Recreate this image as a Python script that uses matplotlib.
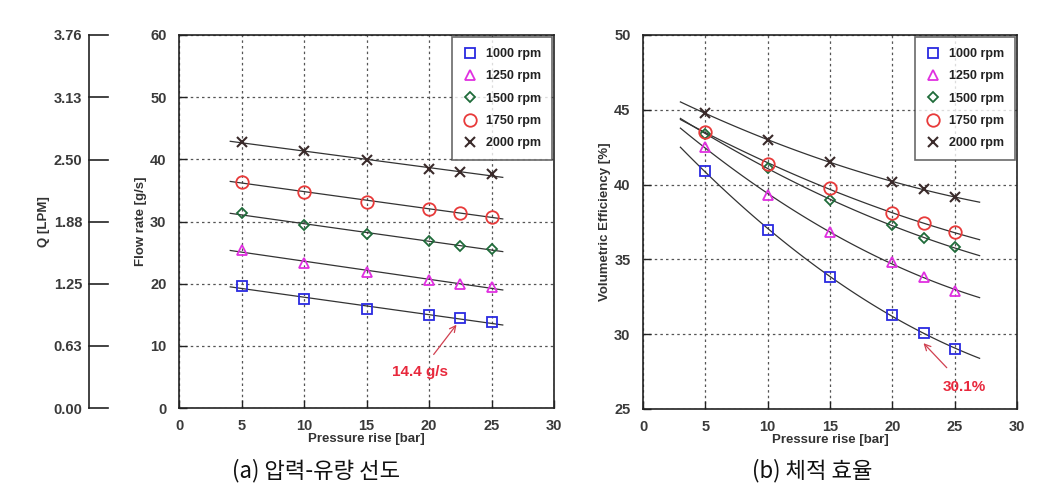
import numpy as np
import matplotlib
matplotlib.use("Agg")
import matplotlib.pyplot as plt

plt.rcParams['font.family'] = ['Liberation Sans', 'DejaVu Sans']

pressure = [5, 10, 15, 20, 22.5, 25]
speeds = ['1000 rpm', '1250 rpm', '1500 rpm', '1750 rpm', '2000 rpm']

flow_1000 = [19.6, 17.6, 16.0, 15.0, 14.4, 13.8]
flow_1250 = [25.4, 23.4, 21.9, 20.6, 20.0, 19.5]
flow_1500 = [31.3, 29.5, 28.0, 26.8, 26.1, 25.6]
flow_1750 = [36.4, 34.7, 33.2, 32.0, 31.4, 30.8]
flow_2000 = [42.8, 41.3, 39.9, 38.4, 38.0, 37.6]

eff_1000 = [40.9, 36.95, 33.85, 31.3, 30.1, 29.0]
eff_1250 = [42.5, 39.3, 36.8, 34.8, 33.85, 32.9]
eff_1500 = [43.4, 41.1, 39.0, 37.3, 36.4, 35.8]
eff_1750 = [43.5, 41.4, 39.75, 38.1, 37.4, 36.8]
eff_2000 = [44.77, 42.98, 41.5, 40.2, 39.7, 39.15]

q_ticks = [0.00, 0.63, 1.25, 1.88, 2.50, 3.13, 3.76]

flows = [flow_1000, flow_1250, flow_1500, flow_1750, flow_2000]
effs = [eff_1000, eff_1250, eff_1500, eff_1750, eff_2000]

styles = [
    dict(marker='s', color='#2a2ae0', ms=7),
    dict(marker='^', color='#e030e0', ms=7.5),
    dict(marker='D', color='#1f6b3a', ms=5.5),
    dict(marker='o', color='#e83a3a', ms=9),
    dict(marker='x', color='#3a2a2a', ms=6.5),
]

W, H = 1039, 504
fig = plt.figure(figsize=(W / 100, H / 100), dpi=100)

tick_col = '#3a3a3a'
def fx(px): return px / W
def fy(py): return 1 - py / H

axL = fig.add_axes([fx(179), fy(408), fx(554) - fx(179), fy(35) - fy(408)])
axR = fig.add_axes([fx(643), fy(409), fx(1017) - fx(643), fy(35) - fy(409)])

for ax in (axL, axR):
    ax.grid(True, color='#555555', linestyle=(0, (2, 2.5)), linewidth=0.9)
    ax.set_axisbelow(True)
    ax.tick_params(direction='in', length=6, width=1, labelsize=10.5,
                   labelcolor=tick_col, colors='#222222')
    ax.tick_params(axis='x', pad=8)
    ax.tick_params(axis='y', pad=9)
    for s in ax.spines.values():
        s.set_color('#222222')
        s.set_linewidth(1.2)
    ax.set_xlim(0, 30)
    ax.set_xticks([0, 5, 10, 15, 20, 25, 30])
    ax.set_xlabel('Pressure rise [bar]', fontsize=9.5, fontweight='bold',
                  color='#333333', labelpad=0)

axL.set_ylim(0, 60)
axL.set_yticks([0, 10, 20, 30, 40, 50, 60])
axL.set_ylabel('Flow rate [g/s]', fontsize=9.5, fontweight='bold', color='#333333', labelpad=2)

axR.set_ylim(25, 50)
axR.set_yticks([25, 30, 35, 40, 45, 50])
axR.set_ylabel('Volumetric Efficiency [%]', fontsize=9.5, fontweight='bold', color='#333333', labelpad=2)

for ax in (axL, axR):
    for lab in ax.get_xticklabels() + ax.get_yticklabels():
        lab.set_fontweight('bold')

p = np.array(pressure)
xl = np.linspace(4.1, 25.9, 50)
xr = np.linspace(3.0, 27.0, 80)
for name, fl, ef, st in zip(speeds, flows, effs, styles):
    c1 = np.polyfit(p, fl, 1)
    axL.plot(xl, np.polyval(c1, xl), color='#333333', lw=0.9, zorder=2)
    c2 = np.polyfit(p, ef, 2)
    axR.plot(xr, np.polyval(c2, xr), color='#333333', lw=0.9, zorder=2)
    for ax, vals in ((axL, fl), (axR, ef)):
        if st['marker'] == 'x':
            ax.plot(pressure, vals, linestyle='none', marker='x', color=st['color'],
                    ms=st['ms'], mew=1.5, label=name, zorder=3)
        else:
            ax.plot(pressure, vals, linestyle='none', marker=st['marker'], mfc='none',
                    mec=st['color'], ms=st['ms'], mew=1.3, label=name, zorder=3)

legkw = dict(loc='upper right', fontsize=9, frameon=True, fancybox=False,
             edgecolor='#444444', borderpad=0.9, labelspacing=0.82, handletextpad=0.8,
             handlelength=1.0, borderaxespad=0.15)
for ax in (axL, axR):
    leg = ax.legend(**legkw)
    leg.get_frame().set_linewidth(1.2)
    for t in leg.get_texts():
        t.set_fontweight('bold')
        t.set_color('#222222')

axL.annotate('14.4 g/s', xy=(22.2, 13.4), xytext=(19.3, 5.8), ha='center', va='center',
             fontsize=11, fontweight='bold', color='#e8283c',
             arrowprops=dict(arrowstyle='->', color='#d04050', lw=0.9, shrinkA=7, shrinkB=0))
axR.annotate('30.1%', xy=(22.5, 29.4), xytext=(25.8, 26.5), ha='center', va='center',
             fontsize=11, fontweight='bold', color='#e8283c',
             arrowprops=dict(arrowstyle='->', color='#d04050', lw=0.9, shrinkA=9, shrinkB=0))

# Q [LPM] secondary axis
axQ = fig.add_axes([fx(89), fy(408), 0.0005, fy(35) - fy(408)])
axQ.set_ylim(0, 3.76)
axQ.set_yticks(q_ticks)
axQ.set_yticklabels(['%.2f' % v for v in q_ticks])
axQ.set_xticks([])
for k in ('top', 'right', 'bottom'):
    axQ.spines[k].set_visible(False)
axQ.spines['left'].set_color('#222222')
axQ.spines['left'].set_linewidth(1.2)
axQ.patch.set_visible(False)
axQ.tick_params(axis='y', direction='out', length=0, labelsize=10.5, labelcolor=tick_col, pad=5)
for lab in axQ.get_yticklabels():
    lab.set_fontweight('bold')
for v in q_ticks:
    ypix = 408 - v / 3.76 * (408 - 35)
    fig.add_artist(plt.Line2D([fx(89), fx(108)], [fy(ypix), fy(ypix)], color='#222222', lw=1.2))
axQ.set_ylabel('Q [LPM]', fontsize=9.5, fontweight='bold', color='#333333', labelpad=2)

fig.text(fx(316), fy(471), '(a) 압력-유량 선도', ha='center', va='center', fontsize=16,
         family=['Noto Sans CJK KR', 'DejaVu Sans'], color='#111111')
fig.text(fx(812), fy(471), '(b) 체적 효율', ha='center', va='center', fontsize=16,
         family=['Noto Sans CJK KR', 'DejaVu Sans'], color='#111111')

fig.savefig('out.png', dpi=100)
